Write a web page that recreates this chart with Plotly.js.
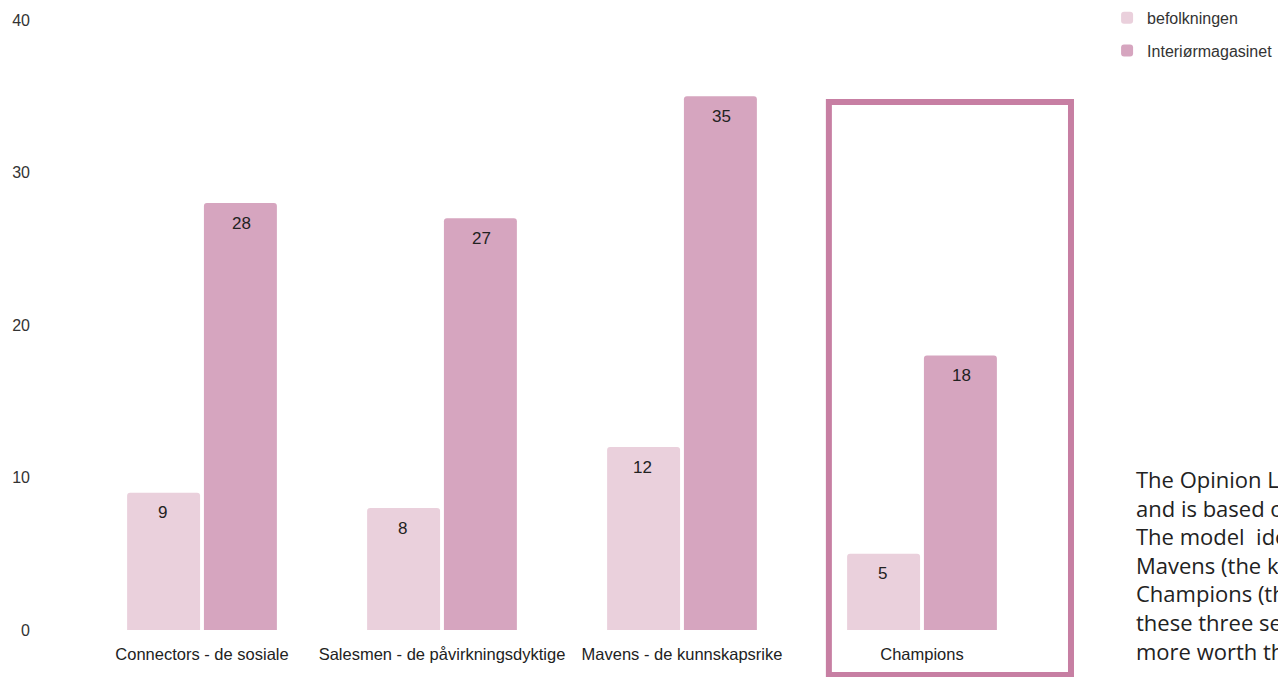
<!DOCTYPE html>
<html>
<head>
<meta charset="utf-8">
<script src="https://cdn.plot.ly/plotly-3.0.1.min.js"></script>
<style>html,body{margin:0;padding:0;background:#fff;overflow:hidden;}#chart{width:1278px;height:677px;}</style>
</head>
<body>
<div id="chart"></div>
<script>
const categories = ["Connectors - de sosiale", "Salesmen - de påvirkningsdyktige", "Mavens - de kunnskapsrike", "Champions"];
const seriesNames = ["befolkningen", "Interiørmagasinet"];
const befolkning = [9, 8, 12, 5];
const interior = [28, 27, 35, 18];
const yTicks = [0, 10, 20, 30, 40];
const noteLines = ["The Opinion Leader", "and is based on", "The model  identifies", "Mavens (the knowledgeable),", "Champions (the", "these three segments", "more worth than"];

const colors = ["#EAD0DC", "#D6A5BF"];
const labelFont = {family: "Liberation Sans, Arial, sans-serif", size: 17, color: "#222"};

function barTrace(name, vals, color, grp) {
  return {
    type: "bar", name: name, x: categories, y: vals,
    marker: {color: color},
    legendgroup: grp, hoverinfo: "x+y"
  };
}

const data = [
  barTrace(seriesNames[0], befolkning, colors[0], "a"),
  barTrace(seriesNames[1], interior, colors[1], "b")
];

// value labels placed on the data coordinates of each bar
const valueLabels = [];
[[befolkning, -39.5], [interior, 39.5]].forEach(([vals, dx]) => {
  vals.forEach((v, i) => {
    valueLabels.push({xref: "x", yref: "y", x: categories[i], y: v, xshift: dx, yshift: -20,
      yanchor: "middle", xanchor: "center", showarrow: false, text: String(v), font: labelFont});
  });
});

const layout = {
  width: 1278, height: 677,
  margin: {l: 82, r: 236, t: 20, b: 47, autoexpand: false},
  paper_bgcolor: "#fff", plot_bgcolor: "#fff",
  barmode: "group", bargap: 0.36, bargroupgap: 0.05, barcornerradius: 3,
  font: {family: "Liberation Sans, Arial, sans-serif", size: 16, color: "#333"},
  xaxis: {showgrid: false, zeroline: false, showline: false, ticks: "", ticklabelstandoff: 12,
          tickfont: {size: 16.5, color: "#222"}, automargin: false},
  yaxis: {range: [0, 40], tickvals: yTicks, showgrid: false, zeroline: false, showline: false,
          ticks: "", ticklabelstandoff: 51, tickfont: {size: 16, color: "#333"}, automargin: false},
  showlegend: true,
  legend: {x: 1.0678, y: 1.0315, xanchor: "left", yanchor: "top", traceorder: "grouped",
           tracegroupgap: 9, font: {size: 16, color: "#333"}, bgcolor: "rgba(0,0,0,0)"},
  shapes: [{type: "rect", xref: "paper", yref: "paper", x0: 0.778, x1: 1.0302, y0: -0.0738, y1: 0.8656,
            line: {color: "#C77FA3", width: 6}, fillcolor: "rgba(0,0,0,0)", layer: "above"}],
  annotations: valueLabels.concat([{xref: "paper", yref: "paper", x: 1.096, y: 0.2755, xanchor: "left", yanchor: "top",
                 align: "left", showarrow: false, text: noteLines.join("<br>"),
                 font: {family: "Open Sans, Roboto, sans-serif", size: 22, color: "#222"}}])
};

Plotly.newPlot("chart", data, layout, {displayModeBar: false, staticPlot: true});
</script>
</body>
</html>
